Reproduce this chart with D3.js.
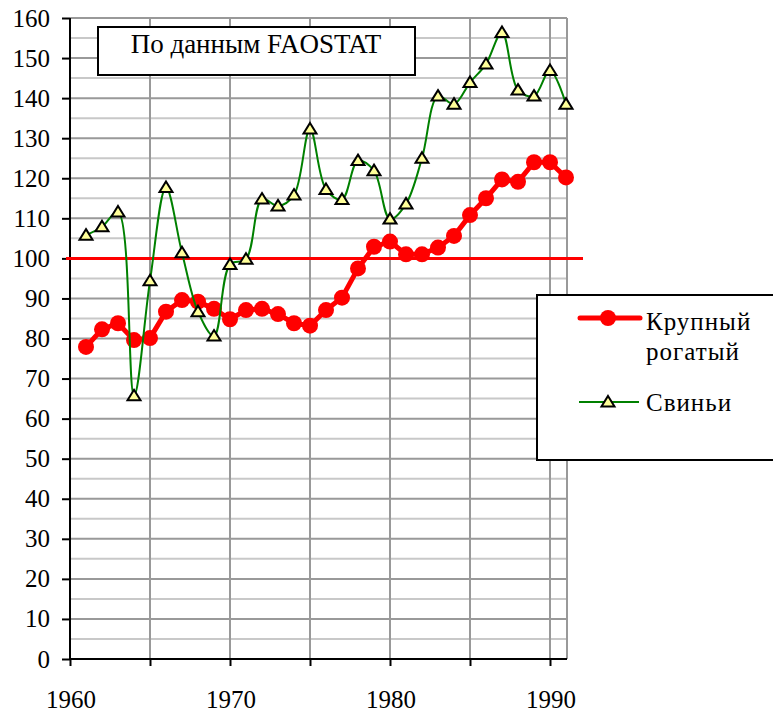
<!DOCTYPE html>
<html>
<head>
<meta charset="utf-8">
<script src="https://cdn.jsdelivr.net/npm/d3@7"></script>
<style>
	body { margin: 0; background: #fff; }
</style>
</head>
<body>
<svg id="chart" width="773" height="715"></svg>
<script>

var aYears = d3.range(1961, 1992);

// Крупный рогатый скот, индекс
var aCattle = [77.9, 82.3, 83.8, 79.6, 80.1, 86.7, 89.6, 89.2, 87.4, 84.8,
	87.1, 87.4, 86.1, 83.8, 83.2, 87.1, 90.2, 97.5, 102.9, 104.2,
	101.0, 101.0, 102.7, 105.6, 110.8, 115.0, 119.7, 119.1, 124.0, 124.0, 120.2];

// Свиньи, индекс
var aPigs = [105.8, 107.9, 111.6, 65.7, 94.4, 117.7, 101.4, 86.7, 80.6, 98.5,
	99.8, 114.8, 113.1, 115.8, 132.3, 117.2, 114.7, 124.4, 121.9, 109.8,
	113.6, 125.0, 140.5, 138.5, 143.9, 148.5, 156.4, 142.0, 140.5, 146.9, 138.5];

var aSeriesNames = ['Крупный', 'рогатый', 'Свиньи'];
var strTitle = 'По данным FAOSTAT';
var aYTicks = d3.range(0, 161, 10);
var aYMinor = d3.range(5, 160, 10);
var aXTicks = d3.range(1960, 1992, 5);
var aXLabels = [1960, 1970, 1980, 1990];
var nRefValue = 100;

const strFont = 'Liberation Serif, DejaVu Serif, serif';

function DrawChart(vSelector)
{
	var sSvg = d3.select(vSelector);

	var x = d3.scaleLinear().domain([1960, 1991]).range([70, 566]);
	var y = d3.scaleLinear().domain([0, 160]).range([659, 18]);

	var nLeft = x(1960), nRight = x(1991) + 1;

	var sGrid = sSvg.append('g');

	sGrid.selectAll('.minor')
		.data(aYMinor)
		.enter()
			.append('line')
				.attr('x1', nLeft).attr('x2', nRight)
				.attr('y1', function(d) { return y(d); })
				.attr('y2', function(d) { return y(d); })
				.style('stroke', '#c8c8c8')
				.style('stroke-width', 2);

	sGrid.selectAll('.major')
		.data(aYTicks.filter(function(d) { return d > 0; }))
		.enter()
			.append('line')
				.attr('x1', nLeft).attr('x2', nRight)
				.attr('y1', function(d) { return y(d); })
				.attr('y2', function(d) { return y(d); })
				.style('stroke', '#999')
				.style('stroke-width', 2);

	sGrid.selectAll('.vert')
		.data(aXTicks.filter(function(d) { return d > 1960; }))
		.enter()
			.append('line')
				.attr('x1', function(d) { return x(d); })
				.attr('x2', function(d) { return x(d); })
				.attr('y1', y(160)).attr('y2', y(0))
				.style('stroke', '#999')
				.style('stroke-width', 2);

	// right border of plot area
	sGrid.append('line')
		.attr('x1', nRight).attr('x2', nRight)
		.attr('y1', y(160)).attr('y2', y(0))
		.style('stroke', '#999')
		.style('stroke-width', 2);

	// axes
	var sYAxis = sSvg.append('g')
		.attr('transform', 'translate(' + nLeft + ',0)')
		.call(d3.axisLeft(y).tickValues(aYTicks).tickSize(8).tickPadding(12).tickFormat(d3.format('d')));

	var sXAxis = sSvg.append('g')
		.attr('transform', 'translate(0,' + y(0) + ')')
		.call(d3.axisBottom(x).tickValues(aXTicks).tickSize(7).tickFormat(''));

	[sYAxis, sXAxis].forEach(function(sAxis)
	{
		sAxis.attr('font-family', strFont);
		sAxis.select('.domain').attr('stroke', '#000').attr('stroke-width', 2);
		sAxis.selectAll('.tick line').attr('stroke', '#000').attr('stroke-width', 2);
	});
	sXAxis.select('.domain').attr('d', 'M' + nLeft + ',0H' + nRight);
	sYAxis.select('.domain').attr('d', 'M0,' + y(160) + 'V' + y(0));

	sYAxis.selectAll('.tick text')
		.attr('fill', '#000')
		.attr('font-family', strFont)
		.attr('font-size', 25);

	sSvg.selectAll('.xlabel')
		.data(aXLabels)
		.enter()
			.append('text')
				.attr('x', function(d) { return x(d) + 1; })
				.attr('y', 708)
				.attr('text-anchor', 'middle')
				.attr('font-family', strFont)
				.attr('font-size', 25)
				.text(function(d) { return d; });

	// reference line at 100
	sSvg.append('line')
		.attr('x1', nLeft - 4).attr('x2', 583)
		.attr('y1', y(nRefValue)).attr('y2', y(nRefValue))
		.style('stroke', '#ff0000')
		.style('stroke-width', 3);

	// cattle series
	var lineCattle = d3.line()
		.x(function(d, i) { return x(aYears[i]); })
		.y(function(d) { return y(d); });

	sSvg.append('path')
		.datum(aCattle)
		.attr('d', lineCattle)
		.style('fill', 'none')
		.style('stroke', '#ff0000')
		.style('stroke-width', 5)
		.style('stroke-linejoin', 'round');

	sSvg.selectAll('.cattle-dot')
		.data(aCattle)
		.enter()
			.append('circle')
				.attr('cx', function(d, i) { return x(aYears[i]); })
				.attr('cy', function(d) { return y(d); })
				.attr('r', 8)
				.style('fill', '#ff0000');

	// pigs series, smoothed
	var linePigs = d3.line()
		.x(function(d, i) { return x(aYears[i]); })
		.y(function(d) { return y(d); })
		.curve(d3.curveCatmullRom.alpha(0.5));

	sSvg.append('path')
		.datum(aPigs)
		.attr('d', linePigs)
		.style('fill', 'none')
		.style('stroke', '#008000')
		.style('stroke-width', 2);

	var strTriangle = 'M0,-6L6.5,4.5L-6.5,4.5Z';

	sSvg.selectAll('.pig-dot')
		.data(aPigs)
		.enter()
			.append('path')
				.attr('transform', function(d, i) { return 'translate(' + x(aYears[i]) + ',' + y(d) + ')'; })
				.attr('d', strTriangle)
				.style('fill', '#ffff99')
				.style('stroke', '#000')
				.style('stroke-width', 2)
				.style('stroke-linejoin', 'miter');

	// title box
	sSvg.append('rect')
		.attr('x', 98).attr('y', 27)
		.attr('width', 317).attr('height', 48)
		.style('fill', '#fff')
		.style('stroke', '#000')
		.style('stroke-width', 2);

	sSvg.append('text')
		.attr('x', 256).attr('y', 53)
		.attr('text-anchor', 'middle')
		.attr('font-family', strFont)
		.attr('font-size', 27)
		.text(strTitle);

	// legend
	var sLegend = sSvg.append('g');

	sLegend.append('rect')
		.attr('x', 537).attr('y', 295)
		.attr('width', 250).attr('height', 165)
		.style('fill', '#fff')
		.style('stroke', '#000')
		.style('stroke-width', 2);

	sLegend.append('line')
		.attr('x1', 580).attr('x2', 640)
		.attr('y1', 318).attr('y2', 318)
		.style('stroke', '#ff0000')
		.style('stroke-width', 5)
		.style('stroke-linecap', 'round');

	sLegend.append('circle')
		.attr('cx', 608).attr('cy', 318)
		.attr('r', 8)
		.style('fill', '#ff0000');

	sLegend.append('line')
		.attr('x1', 579).attr('x2', 639)
		.attr('y1', 402).attr('y2', 402)
		.style('stroke', '#008000')
		.style('stroke-width', 2);

	sLegend.append('path')
		.attr('transform', 'translate(608,402)')
		.attr('d', strTriangle)
		.style('fill', '#ffff99')
		.style('stroke', '#000')
		.style('stroke-width', 2);

	sLegend.selectAll('.legend-text')
		.data([{t: aSeriesNames[0], y: 330}, {t: aSeriesNames[1], y: 360}, {t: aSeriesNames[2], y: 411}])
		.enter()
			.append('text')
				.attr('x', 646)
				.attr('y', function(d) { return d.y; })
				.attr('font-family', strFont)
				.attr('font-size', 25)
				.attr('letter-spacing', 1)
				.text(function(d) { return d.t; });
}

DrawChart('#chart');

</script>
</body>
</html>
